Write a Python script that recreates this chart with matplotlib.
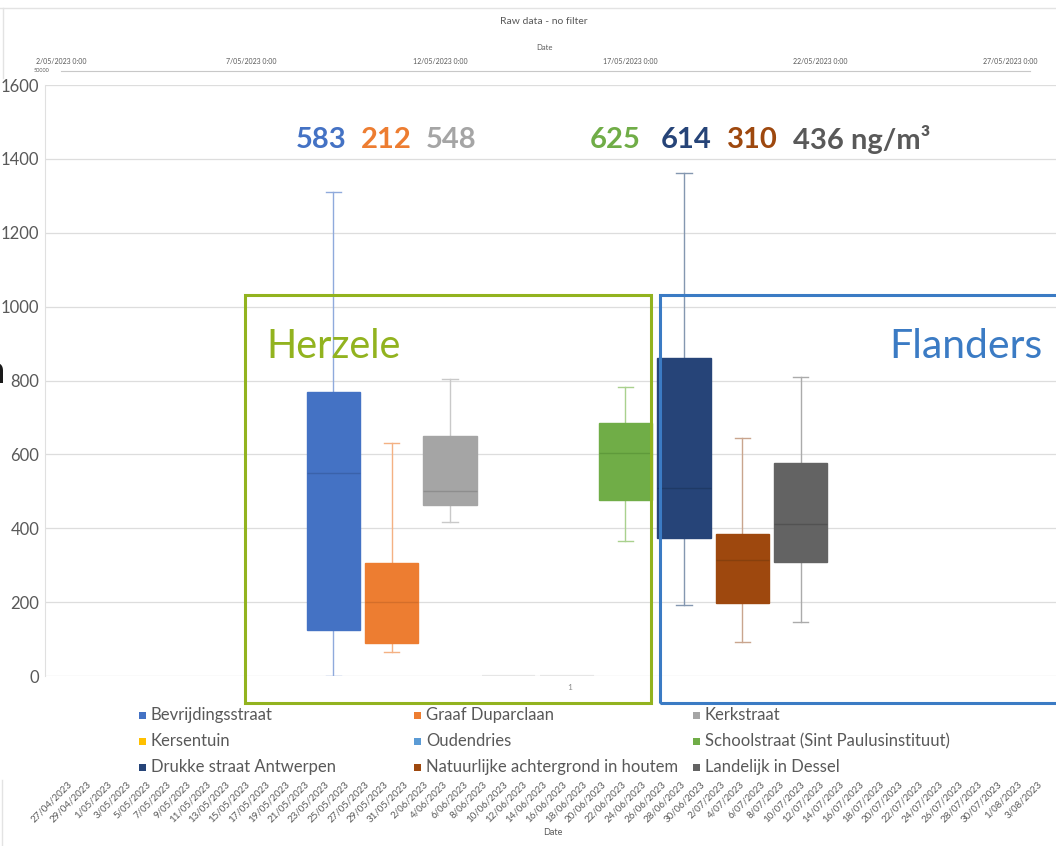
import matplotlib
matplotlib.use("Agg")
import matplotlib.pyplot as plt
from matplotlib.patches import Rectangle
from matplotlib.lines import Line2D
import pandas as pd

# ---------------- data ----------------
categories = ["Bevrijdingsstraat", "Graaf Duparclaan", "Kerkstraat",
              "Kersentuin", "Oudendries", "Schoolstraat (Sint Paulusinstituut)",
              "Drukke straat Antwerpen", "Natuurlijke achtergrond in houtem",
              "Landelijk in Dessel"]
q1 = [124, 89, 463, 0, 0, 476, 373, 197, 309]
median = [549, 201, 501, 0, 0, 603, 508, 314, 411]
q3 = [769, 307, 650, 0, 0, 684, 862, 384, 576]
whislo = [0, 66, 417, 0, 0, 366, 192, 93, 147]
whishi = [1311, 630, 804, 0, 0, 782, 1363, 645, 810]
means = [583, 212, 548, None, None, 625, 614, 310, 436]
unit = "ng/m³"

box_colors = ["#4472C4", "#ED7D31", "#A5A5A5", "#FFC000", "#5B9BD5",
              "#70AD47", "#264478", "#9E480E", "#636363"]
whisker_colors = ["#8FAADC", "#F4B183", "#C9C9C9", "#FFE08A", "#BDD7EE",
                  "#A9D18E", "#8497B0", "#C9A58E", "#ABABAB"]
median_colors = ["#3A62AA", "#D46E2A", "#8E8E8E", "#FFC000", "#5B9BD5",
                 "#5F9A3B", "#1F3A66", "#87400D", "#525252"]
mean_colors = ["#4472C4", "#ED7D31", "#A5A5A5", None, None,
               "#70AD47", "#264478", "#9E480E", "#595959"]

bottom_dates = pd.date_range("2023-04-27", "2023-08-03", freq="2D")
bottom_labels = [f"{d.day}/{d.month:02d}/{d.year}" for d in bottom_dates]
top_dates = pd.date_range("2023-05-02", "2023-05-27", freq="5D")
top_labels = [f"{d.day}/{d.month:02d}/{d.year} 0:00" for d in top_dates]

# ---------------- layout ----------------
W, H = 1056, 846
def fx(px): return px / W
def fy(py): return 1 - py / H

plt.rcParams['font.family'] = ['Lato', 'DejaVu Sans']
TXT = "#595959"
GREEN = "#92B31F"
BLUE = "#3B7BC4"

fig = plt.figure(figsize=(W / 100, H / 100), dpi=100)
fig.patch.set_facecolor("white")

ax = fig.add_axes([fx(45), fy(676), (1089 - 45) / W, (676 - 85) / H])
ax.set_xlim(-4.93, 12.93)
ax.set_ylim(0, 1600)
ax.set_yticks(range(0, 1601, 200))
ax.set_xticks([])
ax.grid(axis='y', color='#DDDDDD', lw=0.9)
ax.set_axisbelow(True)
for s in ['top', 'right', 'bottom']:
    ax.spines[s].set_visible(False)
ax.spines['left'].set_color('#E0E0E0')
ax.tick_params(axis='y', length=0, pad=4, labelsize=12, labelcolor=TXT)

stats = []
for i in range(len(categories)):
    stats.append(dict(label=categories[i], q1=q1[i], med=median[i], q3=q3[i],
                      whislo=whislo[i], whishi=whishi[i], fliers=[]))
positions = list(range(len(categories)))
bp = ax.bxp(stats, positions=positions, widths=0.91, capwidths=0.26,
            patch_artist=True, showfliers=False, manage_ticks=False)

for i in range(len(categories)):
    empty = q3[i] == q1[i]
    b = bp['boxes'][i]
    b.set_facecolor(box_colors[i])
    b.set_edgecolor(box_colors[i] if not empty else '#E6E6E6')
    b.set_linewidth(1.0 if not empty else 1.6)
    b.set_zorder(3)
    m = bp['medians'][i]
    m.set_color(median_colors[i] if not empty else '#E6E6E6')
    m.set_linewidth(1.0)
    m.set_zorder(4)
    for k in (2 * i, 2 * i + 1):
        for key in ('whiskers', 'caps'):
            ln = bp[key][k]
            ln.set_color(whisker_colors[i])
            ln.set_linewidth(1.0)
            ln.set_zorder(2)
            if empty:
                ln.set_visible(False)

ax.text(4.04, -32, "1", fontsize=6, color="#8C8C8C", ha='center', va='center')

# mean labels (manual horizontal nudges as in the reference)
label_dx = [-0.2, -0.09, 0.02, 0, 0, -0.17, 0.04, 0.17, -0.13]
for i, mval in enumerate(means):
    if mval is None:
        continue
    if i == len(means) - 1:
        ax.text(i + label_dx[i], 1452, f"{mval} {unit}", color=mean_colors[i],
                fontsize=21, fontweight='bold', ha='left', va='center')
    else:
        ax.text(i + label_dx[i], 1452, f"{mval}", color=mean_colors[i], fontsize=21,
                fontweight='bold', ha='center', va='center')

# region boxes
ax.add_patch(Rectangle((-1.50, -73), 6.93, 1104, fill=False, edgecolor=GREEN,
                       lw=2.2, clip_on=False, zorder=6))
ax.add_patch(Rectangle((5.583, -73), 9.0, 1104, fill=False, edgecolor=BLUE,
                       lw=2.2, clip_on=False, zorder=6))
ax.text(-1.14, 893, "Herzele", color=GREEN, fontsize=28.5, ha='left', va='center')
ax.text(12.14, 893, "Flanders", color=BLUE, fontsize=29.5, ha='right', va='center')

# partial letter at left edge
fig.text(fx(5), fy(372), "n", fontsize=27, fontweight='bold', color='#1A1A1A',
         ha='right', va='center')

# legend (row-wise, 3 columns)
col_x = [143, 418, 697]
row_y = [715, 741, 767]
for i, name in enumerate(categories):
    r, c = divmod(i, 3)
    x0, y0 = col_x[c], row_y[r]
    fig.patches.append(Rectangle((fx(x0 - 4), fy(y0 + 3.5)), 7 / W, 7 / H,
                                 transform=fig.transFigure, facecolor=box_colors[i],
                                 edgecolor='none', figure=fig))
    fig.text(fx(x0 + 8), fy(y0), name, fontsize=12, color=TXT, ha='left', va='center')

# bottom date axis
axb = fig.add_axes([0, fy(778), 1, 0.0001])
d0 = bottom_dates[0]
px_per_day = 9.898
first_px = 67
axb.set_xlim(d0 - pd.Timedelta(days=first_px / px_per_day),
             d0 + pd.Timedelta(days=(W - first_px) / px_per_day))
axb.set_xticks(bottom_dates)
axb.set_xticklabels(bottom_labels, rotation=45, ha='right', va='top',
                    rotation_mode='anchor', fontsize=7, color=TXT)
axb.tick_params(axis='x', length=0, pad=1)
axb.set_yticks([])
for s in axb.spines.values():
    s.set_visible(False)
axb.patch.set_visible(False)
fig.text(fx(553), fy(832), "Date", fontsize=6.5, color=TXT, ha='center', va='center')

# top mini chart
fig.text(fx(544), fy(22), "Raw data - no filter", fontsize=7.5, color=TXT,
         ha='center', va='center')
fig.text(fx(544), fy(48), "Date", fontsize=5.5, color=TXT, ha='center', va='center')
axt = fig.add_axes([fx(61), fy(71), (1030 - 61) / W, 5 / H])
t0 = top_dates[0]
axt.set_xlim(t0 + pd.Timedelta(days=(61 - 60) / 38.0),
             t0 + pd.Timedelta(days=(1030 - 60) / 38.0))
axt.set_xticks(top_dates)
axt.set_xticklabels(top_labels, fontsize=5, color=TXT)
axt.tick_params(axis='x', length=0, pad=0.5, labeltop=True, labelbottom=False)
axt.set_yticks([])
for s in ['top', 'left', 'right']:
    axt.spines[s].set_visible(False)
axt.spines['bottom'].set_color('#C8C8C8')
axt.patch.set_visible(False)
fig.text(fx(42), fy(71), "50000", fontsize=4, color=TXT, ha='center', va='center')

# faint frame lines
fig.add_artist(Line2D([0, 1], [fy(8), fy(8)], transform=fig.transFigure,
                      color='#E3E3E3', lw=1))
fig.add_artist(Line2D([fx(3), fx(3)], [fy(8), fy(78)], transform=fig.transFigure,
                      color='#E3E3E3', lw=1))
fig.add_artist(Line2D([fx(2), fx(2)], [fy(780), 0], transform=fig.transFigure,
                      color='#E3E3E3', lw=1))

fig.savefig("out.png", dpi=100)
